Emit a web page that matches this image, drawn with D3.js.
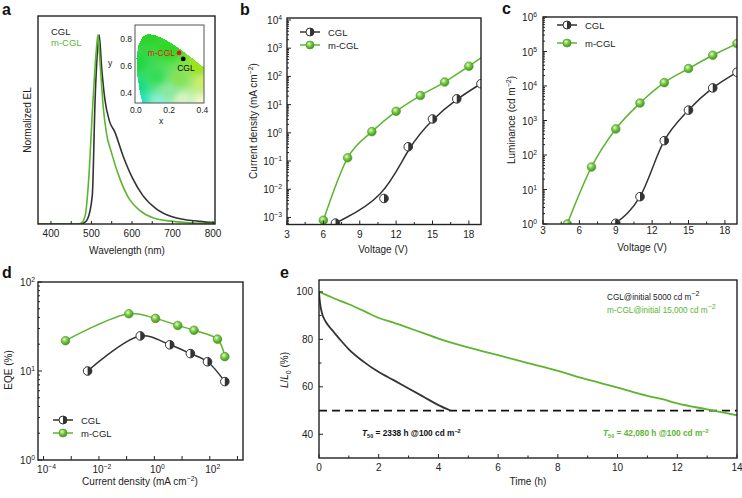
<!DOCTYPE html>
<html><head><meta charset="utf-8">
<script src="https://cdn.jsdelivr.net/npm/d3@7"></script>
<style>
body{margin:0;background:#fff;}
svg{font-family:"Liberation Sans",Arial,Helvetica,sans-serif;}
</style></head><body>
<svg id="c" width="742" height="498"></svg>
<script>
// ---------- DATA ----------
// (a) normalized EL spectra
const wlCGL = [368, 470, 480, 490, 502, 509, 515, 519, 525, 533, 545, 557, 578, 602, 627, 660, 701, 766, 805];
const elCGL = [0, 0, 0.004, 0.025, 0.15, 0.66, 0.92, 1.0, 0.83, 0.66, 0.54, 0.49, 0.36, 0.24, 0.15, 0.08, 0.037, 0.014, 0.006];
const wlM = [368, 465, 475, 485, 492, 504, 512, 516, 522, 529, 537, 549, 570, 594, 619, 652, 701, 766, 805];
const elM = [0, 0, 0.005, 0.05, 0.2, 0.66, 0.92, 1.0, 0.83, 0.62, 0.48, 0.38, 0.24, 0.13, 0.072, 0.033, 0.014, 0.004, 0.002];
const aTicks = [400, 500, 600, 700, 800];
// CIE inset
const locusX = [0.1440,0.1241,0.1096,0.0913,0.0687,0.0454,0.0235,0.0082,0.0039,0.0139,0.0389,0.0743,0.1142,0.1547,0.1929,0.2296,0.2658,0.3016,0.3373,0.3731,0.4087,0.4441,0.5125,0.6270];
const locusY = [0.0297,0.0578,0.0868,0.1327,0.2007,0.2950,0.4127,0.5384,0.6548,0.7502,0.8120,0.8338,0.8262,0.8059,0.7816,0.7543,0.7243,0.6923,0.6589,0.6245,0.5896,0.5547,0.4866,0.3725];
const cieNames = ["m-CGL", "CGL"];
const cieXs = [0.26, 0.285];
const cieYs = [0.696, 0.652];
const insetXTicks = [0.0, 0.2, 0.4];
const insetYTicks = [0.4, 0.6, 0.8];
// colour anchors for the chromaticity fill
const anchorX = [0.07, 0.00, 0.20, 0.38, 0.01, 0.01, 0.14, 0.28, 0.41, 0.41, 0.12, 0.26, 0.20];
const anchorY = [0.84, 0.62, 0.72, 0.60, 0.45, 0.34, 0.34, 0.36, 0.34, 0.48, 0.52, 0.50, 0.42];
const anchorC = ["#2ad22a","#1fd640","#2ed826","#9ee21c","#14da86","#14e6cc","#8aefd6","#d6f4c2","#f4f8cc","#cfee6a","#34dc58","#86e254","#8ae8a0"];

// (b) J-V
const vJ_CGL = [7, 11, 13, 15, 17, 19];
const j_CGL = [6.3e-4, 4.7e-3, 0.32, 3.1, 16, 55];
const vJ_M = [6, 8, 10, 12, 14, 16, 18, 20];
const j_M = [8e-4, 0.13, 1.1, 5.8, 21, 63, 230, 900];
const vTicks = [3, 6, 9, 12, 15, 18];

// (c) L-V
const vL_CGL = [9, 11, 13, 15, 17, 19];
const l_CGL = [1.05, 6.2, 260, 2000, 8800, 25000];
const vL_M = [5, 7, 9, 11, 13, 15, 17, 19];
const l_M = [1.0, 45, 570, 3200, 12500, 32000, 78000, 170000];

// (d) EQE-J
const jE_CGL = [3.9e-3, 0.31, 3.6, 20, 83, 350];
const eqe_CGL = [10, 24.8, 19.7, 15.7, 12.7, 7.6];
const jE_M = [6.2e-4, 0.12, 1.1, 7, 27, 190, 350];
const eqe_M = [21.9, 44, 39, 32.5, 28.7, 22.8, 14.5];

// (e) lifetime
const tCGL = [0, 0.02, 0.05, 0.1, 0.2, 0.3, 0.5, 0.7, 1, 1.5, 2, 2.5, 3, 3.5, 4, 4.4];
const lt_CGL = [100, 97, 94, 91, 88, 86, 83, 80, 75.8, 70.5, 66.2, 62.8, 59.3, 55.8, 52.3, 50];
const tM = [0, 0.5, 1, 1.5, 2, 2.5, 3, 3.5, 4, 5, 6, 7, 8, 9, 10, 11, 11.5, 12, 13, 14];
const lt_M = [100, 97.3, 94.8, 92, 89, 87, 84.8, 82.6, 80.3, 76.6, 73.3, 70, 66.7, 63, 59.7, 56.2, 54.8, 53, 50.5, 48];
const eXTicks = [0, 2, 4, 6, 8, 10, 12, 14];
const eYTicks = [40, 60, 80, 100];

// ---------- STYLE ----------
const GREEN = "#5cb531", DARK = "#333333", AX = "#222";
const svg = d3.select("#c");
const defs = svg.append("defs");
const rg = defs.append("radialGradient").attr("id","gball").attr("cx","38%").attr("cy","35%").attr("r","70%");
rg.append("stop").attr("offset","0%").attr("stop-color","#e6f8d0");
rg.append("stop").attr("offset","45%").attr("stop-color","#78c943");
rg.append("stop").attr("offset","100%").attr("stop-color","#3e8c1c");

function clip(id, x0, y0, x1, y1){
  defs.append("clipPath").attr("id", id).append("rect").attr("x", x0).attr("y", y0).attr("width", x1 - x0).attr("height", y1 - y0);
}
function frame(x0, y0, x1, y1){
  svg.append("rect").attr("x", x0).attr("y", y0).attr("width", x1 - x0).attr("height", y1 - y0)
    .attr("fill", "none").attr("stroke", AX).attr("stroke-width", 1.4);
}
function tickB(x, yb, vals, len){
  svg.append("g").selectAll("line").data(vals).join("line")
    .attr("x1", d => x(d)).attr("x2", d => x(d)).attr("y1", yb).attr("y2", yb - len)
    .attr("stroke", AX).attr("stroke-width", 1);
}
function tickL(y, xl, vals, len){
  svg.append("g").selectAll("line").data(vals).join("line")
    .attr("y1", d => y(d)).attr("y2", d => y(d)).attr("x1", xl).attr("x2", xl + len)
    .attr("stroke", AX).attr("stroke-width", 1);
}
function txt(x, y, s, opt = {}){
  const t = svg.append("text").attr("x", x).attr("y", y).text(s)
    .attr("font-size", opt.size || 10).attr("fill", opt.fill || "#222")
    .attr("text-anchor", opt.anchor || "start");
  if (opt.weight) t.attr("font-weight", opt.weight);
  return t;
}
function pow10(x, y, e, anchor, size){
  const t = svg.append("text").attr("x", x).attr("y", y).attr("font-size", size || 10)
    .attr("fill", "#222").attr("text-anchor", anchor);
  t.append("tspan").text("10");
  t.append("tspan").attr("dy", -4).attr("font-size", (size || 10) * 0.68).text(e < 0 ? "\u2212" + (-e) : String(e));
  return t;
}
function vtitle(x, y, build){
  const t = svg.append("text").attr("transform", `translate(${x},${y}) rotate(-90)`)
    .attr("text-anchor", "middle").attr("font-size", 10).attr("fill", "#222");
  build(t);
  return t;
}
function unitSup(t, before, sup, after){
  t.append("tspan").text(before);
  t.append("tspan").attr("dy", -4).attr("font-size", 7).text(sup);
  t.append("tspan").attr("dy", 4).text(after);
}
function greenMarker(g, cx, cy, r = 4.3){
  g.append("circle").attr("cx", cx).attr("cy", cy).attr("r", r)
    .attr("fill", "url(#gball)").attr("stroke", "#4c9e26").attr("stroke-width", 0.7);
}
function halfMarker(g, cx, cy, r = 4.3){
  g.append("circle").attr("cx", cx).attr("cy", cy).attr("r", r).attr("fill", "#fff").attr("stroke", DARK).attr("stroke-width", 1);
  g.append("path").attr("d", `M${cx},${cy - r}A${r},${r} 0 0 1 ${cx},${cy + r}Z`).attr("fill", DARK);
}
function logMinor(lo, hi){
  const out = [];
  for (let k = lo; k <= hi; k++) for (let m = 2; m <= 9; m++) out.push(m * Math.pow(10, k));
  return out;
}
function legend(x0, y, kind, label){
  const g = svg.append("g");
  g.append("line").attr("x1", x0).attr("x2", x0 + 20).attr("y1", y).attr("y2", y)
    .attr("stroke", kind === "g" ? GREEN : DARK).attr("stroke-width", 1.5);
  if (kind === "g") greenMarker(g, x0 + 10, y, 4); else halfMarker(g, x0 + 10, y, 4);
  txt(x0 + 28, y + 3.5, label, {size: 9.5});
}
function zip(a, b){ return a.map((v, i) => [v, b[i]]); }

// ---------- PANEL A ----------
{
  const L = 38, R = 215, T = 16, B = 224;
  const x = d3.scaleLinear([368, 805], [L, R]);
  const y = d3.scaleLinear([0, 1.1], [B, T]);
  clip("clipA", L, T, R, B);
  const line = d3.line().x(d => x(d[0])).y(d => y(d[1])).curve(d3.curveMonotoneX);
  const g = svg.append("g").attr("clip-path", "url(#clipA)");
  g.append("path").attr("d", line(zip(wlCGL, elCGL))).attr("fill", "none").attr("stroke", DARK).attr("stroke-width", 1.6);
  g.append("path").attr("d", line(zip(wlM, elM))).attr("fill", "none").attr("stroke", GREEN).attr("stroke-width", 1.6);
  frame(L, T, R, B);
  tickB(x, B, d3.range(400, 801, 50), 3);
  aTicks.forEach(v => txt(x(v), 237, String(v), {anchor: "middle"}));
  txt(127, 254, "Wavelength (nm)", {anchor: "middle"});
  vtitle(31, 120, t => t.text("Normalized EL"));
  txt(51, 34.5, "CGL", {size: 9.5});
  txt(51, 46, "m-CGL", {size: 9.5, fill: GREEN});
  txt(2, 15, "a", {size: 16, weight: "bold", fill: "#111"});

  // inset CIE
  const iL = 135, iR = 204, iT = 25, iB = 103;
  const xi = d3.scaleLinear([-0.005, 0.41], [iL, iR]);
  const yi = d3.scaleLinear([0.33, 0.9], [iB, iT]);
  const poly = zip(locusX, locusY);
  const anchors = anchorX.map((ax, i) => ({x: ax, y: anchorY[i], c: d3.rgb(anchorC[i])}));
  const cells = [];
  for (let px = iL; px < iR; px++) for (let py = iT; py < iB; py++) {
    const cx = xi.invert(px + 0.5), cy = yi.invert(py + 0.5);
    if (!d3.polygonContains(poly, [cx, cy])) continue;
    let w = 0, r = 0, gg = 0, b = 0;
    anchors.forEach(a => {
      const d2 = (a.x - cx) ** 2 + (a.y - cy) ** 2 + 1e-4;
      const wi = 1 / Math.pow(d2, 1.3);
      w += wi; r += wi * a.c.r; gg += wi * a.c.g; b += wi * a.c.b;
    });
    cells.push({px, py, c: `rgb(${Math.round(r / w)},${Math.round(gg / w)},${Math.round(b / w)})`});
  }
  svg.append("rect").attr("x", iL).attr("y", iT).attr("width", iR - iL).attr("height", iB - iT).attr("fill", "#fff");
  svg.append("g").selectAll("rect").data(cells).join("rect")
    .attr("x", d => d.px).attr("y", d => d.py).attr("width", 1.05).attr("height", 1.05).attr("fill", d => d.c);
  svg.append("rect").attr("x", iL).attr("y", iT).attr("width", iR - iL).attr("height", iB - iT)
    .attr("fill", "none").attr("stroke", "#555").attr("stroke-width", 1);
  insetYTicks.forEach(v => txt(iL - 3, yi(v) + 3, v.toFixed(1), {size: 8.5, anchor: "end"}));
  insetXTicks.forEach(v => txt(xi(v), 113, v.toFixed(1), {size: 8.5, anchor: "middle"}));
  txt(161, 124, "x", {size: 8.5, anchor: "middle"});
  txt(110, 66, "y", {size: 8.5, anchor: "middle"});
  svg.append("circle").attr("cx", xi(cieXs[0])).attr("cy", yi(cieYs[0])).attr("r", 2.4).attr("fill", "#e8141c");
  svg.append("circle").attr("cx", xi(cieXs[1])).attr("cy", yi(cieYs[1])).attr("r", 2.4).attr("fill", "#000");
  txt(xi(cieXs[0]) - 4, yi(cieYs[0]) + 3, cieNames[0], {size: 8.5, anchor: "end", fill: "#e8141c"});
  txt(xi(cieXs[1]) - 6, yi(cieYs[1]) + 12, cieNames[1], {size: 8.5, fill: "#000"});
}

// ---------- PANEL B ----------
{
  const L = 287, R = 481, T = 18, B = 224.5;
  const x = d3.scaleLinear([3, 19], [L, R]);
  const y = d3.scaleLog([Math.pow(10, -3.25), Math.pow(10, 4.07)], [B, T]);
  clip("clipB", L, T, R, B);
  const g = svg.append("g").attr("clip-path", "url(#clipB)");
  const lineB = d3.line().x(d => x(d[0])).y(d => y(d[1])).curve(d3.curveBasis);
  const lineM = d3.line().x(d => x(d[0])).y(d => y(d[1])).curve(d3.curveMonotoneX);
  g.append("path").attr("d", lineB(zip(vJ_CGL, j_CGL))).attr("fill", "none").attr("stroke", DARK).attr("stroke-width", 1.5);
  g.append("path").attr("d", lineM(zip(vJ_M, j_M))).attr("fill", "none").attr("stroke", GREEN).attr("stroke-width", 1.5);
  vJ_CGL.forEach((v, i) => halfMarker(g, x(v), y(j_CGL[i])));
  vJ_M.forEach((v, i) => greenMarker(g, x(v), y(j_M[i])));
  frame(L, T, R, B);
  tickB(x, B, vTicks, 4);
  tickB(x, B, [4.5, 7.5, 10.5, 13.5, 16.5], 2.5);
  tickL(y, L, d3.range(-3, 5).map(k => Math.pow(10, k)), 4);
  tickL(y, L, logMinor(-4, 3).filter(v => v > y.domain()[0] && v < y.domain()[1]), 2);
  vTicks.forEach(v => txt(x(v), 238, String(v), {anchor: "middle"}));
  d3.range(-3, 5).forEach(k => pow10(L - 5, y(Math.pow(10, k)) + 4, k, "end"));
  txt(383, 253, "Voltage (V)", {anchor: "middle"});
  vtitle(257, 121, t => unitSup(t, "Current density (mA cm", "\u22122", ")"));
  legend(300, 32, "k", "CGL");
  legend(300, 45, "g", "m-CGL");
  txt(240, 15, "b", {size: 16, weight: "bold", fill: "#111"});
}

// ---------- PANEL C ----------
{
  const L = 543, R = 737, T = 17, B = 224;
  const x = d3.scaleLinear([3, 19], [L, R]);
  const y = d3.scaleLog([1, 1e6], [B, T]);
  clip("clipC", L, T, R, B);
  const g = svg.append("g").attr("clip-path", "url(#clipC)");
  const line = d3.line().x(d => x(d[0])).y(d => y(d[1])).curve(d3.curveMonotoneX);
  g.append("path").attr("d", line(zip(vL_CGL, l_CGL))).attr("fill", "none").attr("stroke", DARK).attr("stroke-width", 1.5);
  g.append("path").attr("d", line(zip(vL_M, l_M))).attr("fill", "none").attr("stroke", GREEN).attr("stroke-width", 1.5);
  vL_CGL.forEach((v, i) => halfMarker(g, x(v), y(l_CGL[i])));
  vL_M.forEach((v, i) => greenMarker(g, x(v), y(l_M[i])));
  frame(L, T, R, B);
  tickB(x, B, vTicks, 4);
  tickB(x, B, [4.5, 7.5, 10.5, 13.5, 16.5], 2.5);
  tickL(y, L, d3.range(0, 7).map(k => Math.pow(10, k)), 4);
  tickL(y, L, logMinor(0, 5), 2);
  vTicks.forEach(v => txt(x(v), 234, String(v), {anchor: "middle"}));
  d3.range(0, 7).forEach(k => pow10(L - 6, y(Math.pow(10, k)) + 4, k, "end"));
  txt(642, 251, "Voltage (V)", {anchor: "middle"});
  vtitle(515, 120, t => unitSup(t, "Luminance (cd m", "\u22122", ")"));
  legend(557, 25, "k", "CGL");
  legend(557, 43, "g", "m-CGL");
  txt(502, 14, "c", {size: 16, weight: "bold", fill: "#111"});
}

// ---------- PANEL D ----------
{
  const L = 38, R = 243, T = 282, B = 460;
  const x = d3.scaleLog([Math.pow(10, -4.2), Math.pow(10, 3.2)], [L, R]);
  const y = d3.scaleLog([1, 100], [B, T]);
  clip("clipD", L, T, R, B);
  const g = svg.append("g").attr("clip-path", "url(#clipD)");
  const line = d3.line().x(d => x(d[0])).y(d => y(d[1])).curve(d3.curveCatmullRom.alpha(0.5));
  g.append("path").attr("d", line(zip(jE_CGL, eqe_CGL))).attr("fill", "none").attr("stroke", DARK).attr("stroke-width", 1.5);
  g.append("path").attr("d", line(zip(jE_M, eqe_M))).attr("fill", "none").attr("stroke", GREEN).attr("stroke-width", 1.5);
  jE_CGL.forEach((v, i) => halfMarker(g, x(v), y(eqe_CGL[i])));
  jE_M.forEach((v, i) => greenMarker(g, x(v), y(eqe_M[i])));
  frame(L, T, R, B);
  tickB(x, B, d3.range(-4, 4).map(k => Math.pow(10, k)), 4);
  tickL(y, L, [1, 10, 100], 4);
  tickL(y, L, logMinor(0, 1), 2);
  [-4, -2, 0, 2].forEach(k => pow10(x(Math.pow(10, k)) + 3, 473, k, "middle"));
  [0, 1, 2].forEach(k => pow10(L - 3, y(Math.pow(10, k)) + 4, k, "end"));
  const xt = txt(140, 485, "", {anchor: "middle"});
  unitSup(xt, "Current density (mA cm", "\u22122", ")");
  vtitle(12, 370, t => t.text("EQE (%)"));
  legend(53, 420, "k", "CGL");
  legend(53, 433, "g", "m-CGL");
  txt(2, 278, "d", {size: 16, weight: "bold", fill: "#111"});
}

// ---------- PANEL E ----------
{
  const L = 319, R = 737, T = 280, B = 458;
  const x = d3.scaleLinear([0, 14], [L, R]);
  const y = d3.scaleLinear([30, 105], [B, T]);
  clip("clipE", L, T, R, B);
  const g = svg.append("g").attr("clip-path", "url(#clipE)");
  const line = d3.line().x(d => x(d[0])).y(d => y(d[1])).curve(d3.curveMonotoneX);
  g.append("line").attr("x1", x(0)).attr("x2", x(14)).attr("y1", y(50)).attr("y2", y(50))
    .attr("stroke", "#111").attr("stroke-width", 1.8).attr("stroke-dasharray", "8,5");
  g.append("path").attr("d", line(zip(tM, lt_M))).attr("fill", "none").attr("stroke", GREEN).attr("stroke-width", 1.8);
  g.append("path").attr("d", line(zip(tCGL, lt_CGL))).attr("fill", "none").attr("stroke", DARK).attr("stroke-width", 1.8);
  frame(L, T, R, B);
  tickB(x, B, eXTicks, 4);
  tickB(x, B, [1, 3, 5, 7, 9, 11, 13], 2.5);
  tickL(y, L, eYTicks, 4);
  tickL(y, L, [50, 70, 90], 2.5);
  eXTicks.forEach(v => txt(x(v), 471, String(v), {anchor: "middle"}));
  eYTicks.forEach(v => txt(L - 6, y(v) + 3.5, String(v), {anchor: "end"}));
  txt(528, 485, "Time (h)", {anchor: "middle"});
  vtitle(288, 370, t => {
    t.append("tspan").attr("font-style", "italic").text("L");
    t.append("tspan").text("/");
    t.append("tspan").attr("font-style", "italic").text("L");
    t.append("tspan").attr("dy", 3).attr("font-size", 7).text("0");
    t.append("tspan").attr("dy", -3).text(" (%)");
  });
  const t1 = txt(607, 300, "", {size: 8.2});
  unitSup(t1, "CGL@initial 5000 cd m", "\u22122", "");
  const t2 = txt(607, 313, "", {size: 8.2, fill: GREEN});
  unitSup(t2, "m-CGL@initial 15,000 cd m", "\u22122", "");
  function t50(xx, col, val){
    const t = svg.append("text").attr("x", xx).attr("y", 436).attr("font-size", 8.3).attr("font-weight", "bold").attr("fill", col);
    t.append("tspan").attr("font-style", "italic").text("T");
    t.append("tspan").attr("dy", 2).attr("font-size", 5.5).text("50");
    t.append("tspan").attr("dy", -2).text(` = ${val} h @100 cd m`);
    t.append("tspan").attr("dy", -3.5).attr("font-size", 5.5).text("\u22122");
  }
  t50(362, "#111", "2338");
  t50(603, GREEN, "42,080");
  txt(280, 278, "e", {size: 16, weight: "bold", fill: "#111"});
}
</script></body></html>
